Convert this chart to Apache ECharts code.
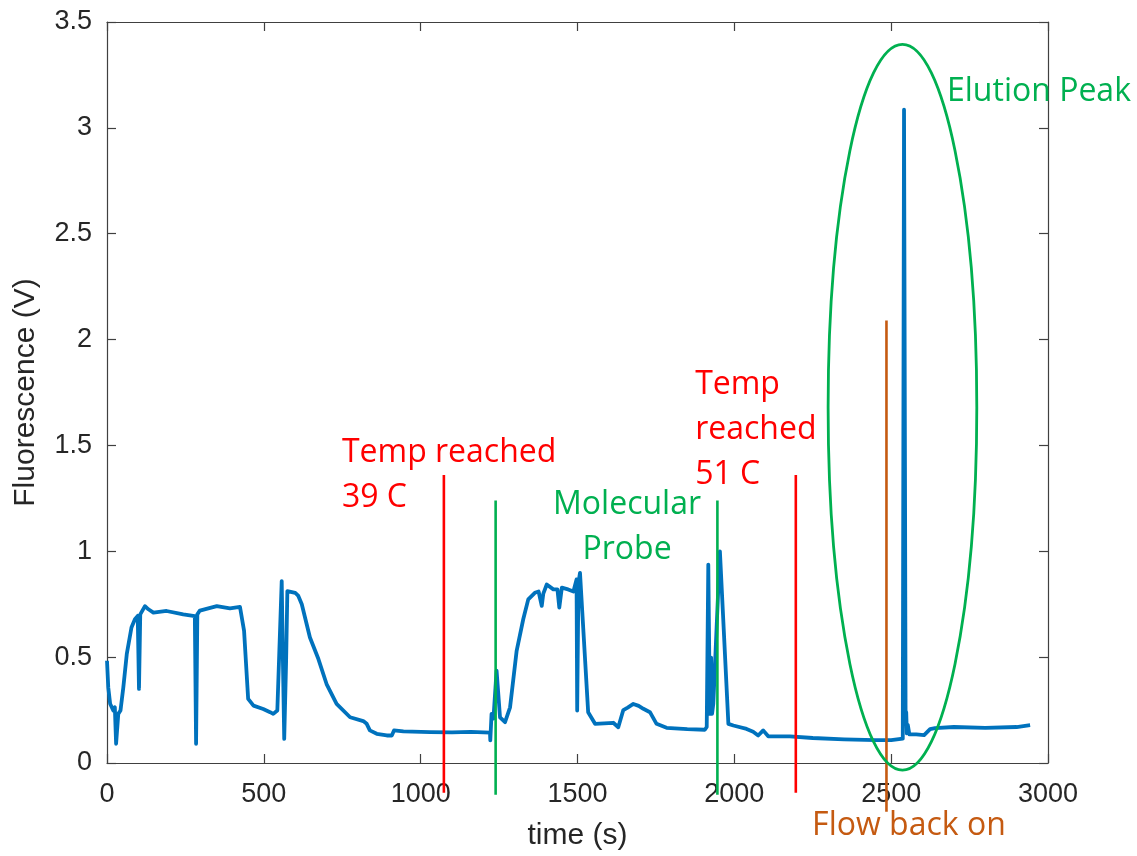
<!DOCTYPE html>
<html><head><meta charset="utf-8">
<script src="https://cdn.jsdelivr.net/npm/echarts@6/dist/echarts.min.js"></script>
<style>html,body{margin:0;padding:0;background:#fff}#c{width:1137px;height:856px}</style>
</head><body><div id="c"></div>
<script>
// time (s)
const times = [0,4,10,20,25,29,36,43,52,63,78,89,98,102,106,121,132,148,190,243,280,284,288,296,350,392,424,437,450,467,498,520,530,543,557,560,565,571,575,
600,610,621,647,674,700,732,775,817,828,838,860,892,908,915,945,1030,1100,1160,1221,1222,1226,1232,1242,1253,1269,1285,1306,1327,1343,1364,1376,1386,1391,1402,1423,1436,1442,1450,1470,1487,1497,1499,1503,1508,1515,1534,1556,1614,1630,1646,1660,1678,1695,1710,1731,
1752,1784,1850,1906,1912,1917,1922,1926,1929,1933,1954,1981,1997,2039,2060,2076,2092,2108,2177,2250,2350,2450,2500,2537,2541,2544,2546,2548,2550,2553,2558,2580,2605,2624,2640,2700,2800,2900,2943];
// fluorescence (V)
const fluorescence = [0.483,0.357,0.28,0.248,0.263,0.091,0.232,0.248,0.357,0.514,0.640,0.679,0.695,0.35,0.702,0.741,0.726,0.71,0.718,0.702,0.694,0.091,0.702,0.72,0.741,0.73,0.737,0.624,0.303,0.271,0.255,0.24,0.232,0.248,0.859,0.56,0.114,0.48,0.812,
0.804,0.789,0.75,0.593,0.491,0.373,0.279,0.216,0.198,0.185,0.154,0.138,0.130,0.130,0.154,0.149,0.146,0.145,0.147,0.143,0.107,0.232,0.21,0.436,0.216,0.193,0.263,0.53,0.679,0.773,0.804,0.81,0.742,0.8,0.843,0.82,0.82,0.734,0.828,0.82,0.81,0.867,0.248,0.85,0.898,0.72,0.24,0.185,0.19,0.169,0.25,0.262,0.279,0.27,0.256,0.24,
0.185,0.166,0.16,0.157,0.17,0.937,0.232,0.498,0.232,0.28,1.00,0.185,0.177,0.161,0.148,0.130,0.154,0.126,0.126,0.118,0.112,0.108,0.108,0.115,3.086,1.4,0.2,0.24,0.14,0.18,0.135,0.135,0.132,0.16,0.165,0.17,0.166,0.17,0.179];

const xTicks = [0, 500, 1000, 1500, 2000, 2500, 3000];
const yTicks = [0, 0.5, 1, 1.5, 2, 2.5, 3, 3.5];

// annotation events (time in s)
const eventNames = ['Temp reached 39 C', 'Molecular Probe', 'Temp reached 51 C', 'Flow back on'];
const eventTimes = [1074, 1239, 1946, 2196, 2485];

const chart = echarts.init(document.getElementById('c'), null, {renderer: 'canvas'});
const axisColor = '#404040';
const labelFont = {color: '#262626', fontSize: 27, fontFamily: 'Liberation Sans, Arial, sans-serif', formatter: v => String(v)};
const commonX = {type: 'value', min: xTicks[0], max: xTicks[xTicks.length - 1], interval: 500,
  splitLine: {show: false}, axisLine: {show: true, onZero: false, lineStyle: {color: axisColor, width: 1.2}},
  axisTick: {show: true, inside: true, length: 9, lineStyle: {color: axisColor, width: 1.2}}};
const commonY = {type: 'value', min: yTicks[0], max: yTicks[yTicks.length - 1], interval: 0.5,
  splitLine: {show: false}, axisLine: {show: true, onZero: false, lineStyle: {color: axisColor, width: 1.2}},
  axisTick: {show: true, inside: true, length: 9, lineStyle: {color: axisColor, width: 1.2}}};

chart.setOption({
  animation: false,
  backgroundColor: '#fff',
  grid: {left: 107, right: 89, top: 22, bottom: 90, containLabel: false},
  xAxis: [
    Object.assign({}, commonX, {position: 'bottom', name: 'time (s)', nameLocation: 'middle', nameGap: 58,
      nameTextStyle: {color: '#262626', fontSize: 30, fontFamily: 'Liberation Sans, Arial, sans-serif'},
      axisLabel: Object.assign({margin: 18}, labelFont)}),
    Object.assign({}, commonX, {position: 'top', axisLabel: {show: false}})
  ],
  yAxis: [
    Object.assign({}, commonY, {position: 'left', name: 'Fluorescence (V)', nameLocation: 'middle', nameGap: 66,
      nameTextStyle: {color: '#262626', fontSize: 30, fontFamily: 'Liberation Sans, Arial, sans-serif'},
      axisLabel: Object.assign({margin: 15}, labelFont)}),
    Object.assign({}, commonY, {position: 'right', axisLabel: {show: false}})
  ],
  series: [{
    type: 'line', xAxisIndex: 0, yAxisIndex: 0,
    data: times.map((t, i) => [t, fluorescence[i]]),
    showSymbol: false, symbol: 'none',
    lineStyle: {color: '#0072BD', width: 3.8, join: 'round'},
    clip: false, z: 2
  }]
});

function P(t, v) { return chart.convertToPixel({seriesIndex: 0}, [t, v]); }
const textFont = 'Open Sans, Noto Sans, sans-serif';
const g = [];
function vline(t, v1, v2, color) {
  const a = P(t, v1), b = P(t, v2);
  g.push({type: 'line', z: 100, shape: {x1: a[0], y1: a[1], x2: b[0], y2: b[1]}, style: {stroke: color, lineWidth: 2.6}});
}
vline(eventTimes[0], 1.36, -0.14, '#FF0000');
vline(eventTimes[1], 1.24, -0.15, '#00B050');
vline(eventTimes[2], 1.24, -0.15, '#00B050');
vline(eventTimes[3], 1.36, -0.14, '#FF0000');
vline(eventTimes[4], 2.09, -0.23, '#C55A11');

// ellipse around elution peak
const c0 = P(2536, 1.68), cx1 = P(2536 + 237, 1.68), cy1 = P(2536, 1.68 + 1.714);
g.push({type: 'ellipse', z: 100, shape: {cx: c0[0], cy: c0[1], rx: cx1[0] - c0[0], ry: c0[1] - cy1[1]},
  style: {fill: 'none', stroke: '#00B050', lineWidth: 2.8}});

function label(text, t, v, color, align) {
  const p = P(t, v);
  g.push({type: 'text', z: 101, x: p[0], y: p[1], style: {text: text, fill: color,
    fontSize: 32, fontFamily: textFont, lineHeight: 45, align: align || 'left', verticalAlign: 'top'}});
}
label('Temp reached\n39 C', 749, 1.573, '#FF0000');
label('Molecular\nProbe', 1658, 1.326, '#00B050', 'center');
label('Temp\nreached\n51 C', 1875, 1.893, '#FF0000');
label('Elution Peak', 2678, 3.276, '#00B050');
label('Flow back on', 2248, -0.19, '#C55A11');

chart.setOption({graphic: g});
</script></body></html>
